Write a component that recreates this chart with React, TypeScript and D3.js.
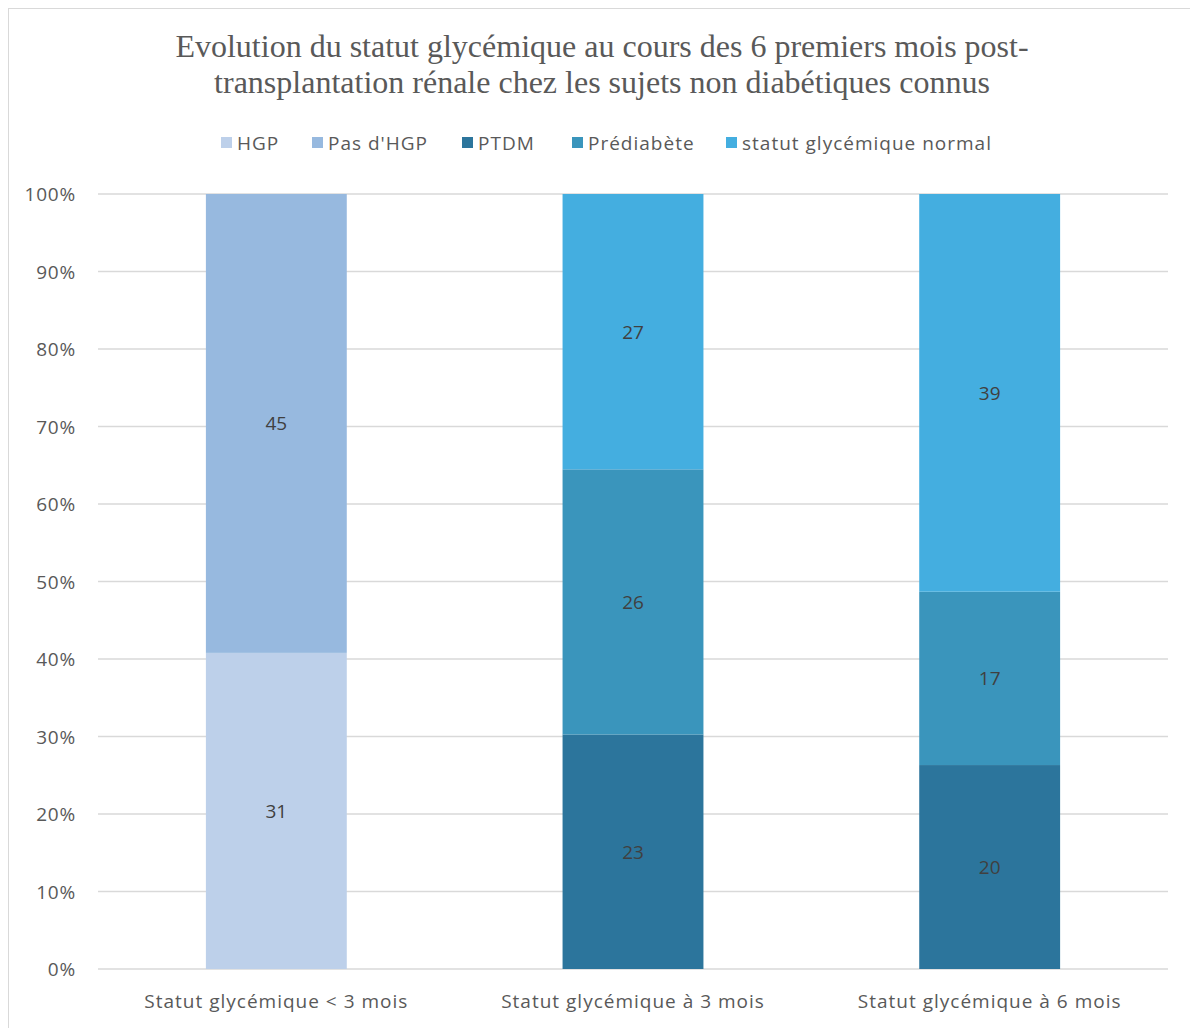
import * as d3 from 'd3';

const categories = ['Statut glycémique < 3 mois', 'Statut glycémique à 3 mois', 'Statut glycémique à 6 mois'];
const seriesNames = ['HGP', "Pas d'HGP", 'PTDM', 'Prédiabète', 'statut glycémique normal'];
const seriesColors = ['#BDD0EA', '#97B9DF', '#2C759C', '#3A95BC', '#44AEE0'];
const hgp = [31, 0, 0];
const pasHgp = [45, 0, 0];
const ptdm = [0, 23, 20];
const prediabete = [0, 26, 17];
const normal = [0, 27, 39];
const yTicks = [0, 0.1, 0.2, 0.3, 0.4, 0.5, 0.6, 0.7, 0.8, 0.9, 1];

const W = 1190, H = 1020;
const sans = 'Open Sans, Noto Sans, sans-serif';

export default function App() {
  const values = [hgp, pasHgp, ptdm, prediabete, normal];
  const rows = categories.map((c, i) => {
    const r: any = { cat: c };
    seriesNames.forEach((s, j) => (r[s] = values[j][i]));
    return r;
  });
  const stacked = d3.stack<any>().keys(seriesNames).offset(d3.stackOffsetExpand)(rows);

  const x = d3.scaleBand().domain(categories).range([90, 1160]).paddingInner(0.605).paddingOuter(0.3025);
  const y = d3.scaleLinear().domain([0, 1]).range([961, 186]);

  // legend layout
  const legendX = [213, 304, 454, 564, 718];

  return (
    <svg width={W} height={H} style={{ display: 'block' }}>
      <rect x={0} y={0} width={W + 20} height={H + 20} fill="#fff" stroke="#D9D9D9" strokeWidth={2} />
      <text x={594} y={49} textAnchor="middle" fontFamily="Liberation Serif, serif" fontSize={32} fill="#595959">
        Evolution du statut glycémique au cours des 6 premiers mois post-
      </text>
      <text x={594} y={85} textAnchor="middle" fontFamily="Liberation Serif, serif" fontSize={32} fill="#595959">
        transplantation rénale chez les sujets non diabétiques connus
      </text>

      {seriesNames.map((s, i) => (
        <g key={s} transform={`translate(${legendX[i]},135)`}>
          <rect x={0} y={-6} width={11} height={11} fill={seriesColors[i]} />
          <text x={16} y={7} fontFamily={sans} fontSize={19} letterSpacing={1} fill="#595959">{s}</text>
        </g>
      ))}

      {yTicks.map(t => (
        <g key={t}>
          <line x1={90} x2={1160} y1={y(t)} y2={y(t)} stroke="#D9D9D9" strokeWidth={1.5} />
          <text x={68} y={y(t) + 7} textAnchor="end" fontFamily={sans} fontSize={19} letterSpacing={0.8} fill="#595959">
            {d3.format('.0%')(t)}
          </text>
        </g>
      ))}

      {stacked.map((layer, i) => (
        <g key={layer.key} fill={seriesColors[i]}>
          {layer.map((d, j) => {
            const v = values[i][j];
            if (!v) return null;
            const x0 = x(categories[j])!;
            return (
              <g key={j}>
                <rect x={x0} y={y(d[1])} width={x.bandwidth()} height={y(d[0]) - y(d[1])} />
                <text x={x0 + x.bandwidth() / 2} y={(y(d[0]) + y(d[1])) / 2 + 7} textAnchor="middle"
                  fontFamily={sans} fontSize={19} fill="#404040">{v}</text>
              </g>
            );
          })}
        </g>
      ))}

      {categories.map(c => (
        <text key={c} x={x(c)! + x.bandwidth() / 2} y={1000} textAnchor="middle" fontFamily={sans} fontSize={19}
          letterSpacing={1} fill="#595959">
          {c}
        </text>
      ))}
    </svg>
  );
}
